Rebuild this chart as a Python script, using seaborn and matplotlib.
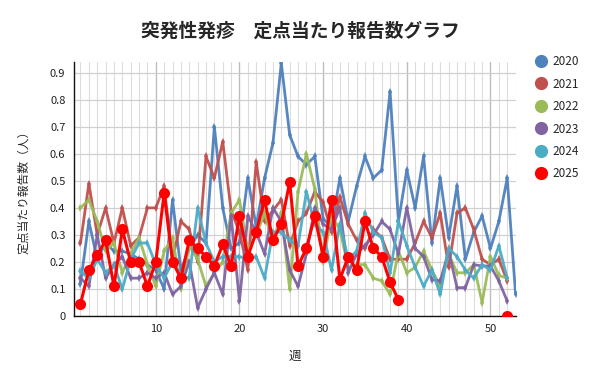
import numpy as np
import pandas as pd
import matplotlib
matplotlib.use("Agg")
import matplotlib.pyplot as plt
from matplotlib.lines import Line2D
from matplotlib.ticker import MultipleLocator, FixedLocator
import seaborn as sns

TITLE = "突発性発疹　定点当たり報告数グラフ"
XLABEL = "週"
YLABEL = "定点当たり報告数（人）"

years = ["2020", "2021", "2022", "2023", "2024", "2025"]
colors = ["#4F81BD", "#C0504D", "#9BBB59", "#8064A2", "#4BACC6", "#FF0000"]

v2020 = [0.12, 0.35, 0.21, 0.27, 0.24, 0.24, 0.23, 0.21, 0.19, 0.17,
         0.10, 0.43, 0.17, 0.25, 0.30, 0.27, 0.70, 0.40, 0.25, 0.27,
         0.51, 0.33, 0.51, 0.64, 0.935, 0.67, 0.59, 0.56, 0.59, 0.36,
         0.33, 0.51, 0.35, 0.48, 0.59, 0.51, 0.54, 0.83, 0.35, 0.54,
         0.40, 0.59, 0.27, 0.51, 0.29, 0.48, 0.21, 0.31, 0.37, 0.25,
         0.35, 0.51, 0.08]
v2021 = [0.27, 0.49, 0.30, 0.40, 0.27, 0.40, 0.26, 0.29, 0.40, 0.40,
         0.48, 0.21, 0.35, 0.32, 0.20, 0.59, 0.51, 0.645, 0.39, 0.31,
         0.17, 0.57, 0.35, 0.39, 0.43, 0.26, 0.35, 0.38, 0.46, 0.42,
         0.31, 0.44, 0.34, 0.28, 0.25, 0.32, 0.29, 0.21, 0.21, 0.21,
         0.27, 0.35, 0.29, 0.38, 0.18, 0.38, 0.40, 0.32, 0.21, 0.19,
         0.21, 0.13]
v2022 = [0.40, 0.43, 0.35, 0.24, 0.27, 0.16, 0.23, 0.29, 0.19, 0.11,
         0.24, 0.29, 0.10, 0.26, 0.21, 0.11, 0.16, 0.20, 0.38, 0.43,
         0.24, 0.30, 0.38, 0.27, 0.38, 0.10, 0.46, 0.60, 0.47, 0.20,
         0.37, 0.32, 0.18, 0.19, 0.19, 0.14, 0.13, 0.08, 0.24, 0.16,
         0.18, 0.24, 0.17, 0.11, 0.23, 0.16, 0.16, 0.19, 0.05, 0.22,
         0.15, 0.14]
v2023 = [0.14, 0.11, 0.30, 0.14, 0.19, 0.22, 0.14, 0.14, 0.16, 0.14,
         0.16, 0.08, 0.11, 0.20, 0.03, 0.10, 0.16, 0.08, 0.37, 0.055,
         0.37, 0.31, 0.23, 0.40, 0.35, 0.17, 0.11, 0.23, 0.40, 0.34,
         0.32, 0.40, 0.16, 0.23, 0.26, 0.30, 0.35, 0.32, 0.23, 0.40,
         0.25, 0.22, 0.135, 0.13, 0.24, 0.105, 0.105, 0.19, 0.185, 0.185,
         0.13, 0.055]
v2024 = [0.165, 0.14, 0.21, 0.16, 0.19, 0.10, 0.21, 0.27, 0.27, 0.19,
         0.14, 0.20, 0.15, 0.14, 0.40, 0.27, 0.20, 0.22, 0.22, 0.22,
         0.21, 0.22, 0.14, 0.31, 0.31, 0.28, 0.26, 0.46, 0.34, 0.31,
         0.17, 0.34, 0.21, 0.24, 0.38, 0.31, 0.29, 0.16, 0.35, 0.26,
         0.18, 0.11, 0.17, 0.08, 0.25, 0.22, 0.17, 0.14, 0.19, 0.17,
         0.26, 0.14]
v2025 = [0.045, 0.17, 0.225, 0.28, 0.11, 0.32, 0.20, 0.20, 0.11, 0.20,
         0.455, 0.20, 0.14, 0.28, 0.25, 0.22, 0.185, 0.265, 0.185, 0.37,
         0.22, 0.31, 0.43, 0.28, 0.34, 0.495, 0.185, 0.25, 0.37, 0.22,
         0.43, 0.135, 0.22, 0.17, 0.35, 0.25, 0.22, 0.125, 0.06, None,
         None, None, None, None, None, None, None, None, None, None,
         None, 0.0]

series = [v2020, v2021, v2022, v2023, v2024, v2025]
yticks = [0, 0.1, 0.2, 0.3, 0.4, 0.5, 0.6, 0.7, 0.8, 0.9]
ytick_labels = ["0", "0.1", "0.2", "0.3", "0.4", "0.5", "0.6", "0.7", "0.8", "0.9"]
xticks = [10, 20, 30, 40, 50]

sns.set_theme(style="white")
plt.rcParams["font.family"] = ["Noto Sans CJK JP", "DejaVu Sans"]

fig = plt.figure(figsize=(6.0, 3.84), dpi=100)
ax = fig.add_axes([0.123, 0.177, 0.737, 0.662])

for year, color, vals in zip(years, colors, series):
    weeks = np.arange(1, len(vals) + 1)
    df = pd.DataFrame({"week": weeks, "value": pd.to_numeric(pd.Series(vals), errors="coerce")})
    # split into contiguous runs (gaps stay gaps)
    grp = df["value"].isna().cumsum()
    df = df.assign(run=grp).dropna()
    for _, sub in df.groupby("run"):
        if year == "2025":
            sns.lineplot(data=sub, x="week", y="value", ax=ax, color=color,
                         linewidth=2.2, marker="o", markersize=8,
                         markeredgewidth=0, zorder=5, legend=False)
        else:
            sns.lineplot(data=sub, x="week", y="value", ax=ax, color=color,
                         linewidth=2.0, marker="d", markersize=4,
                         markeredgewidth=0, alpha=0.95, zorder=3, legend=False)

ax.set_xlim(0.2, 53.05)
ax.set_ylim(0, 0.94)
ax.xaxis.set_major_locator(FixedLocator(xticks))
ax.xaxis.set_minor_locator(MultipleLocator(1))
ax.set_yticks(yticks)
ax.set_yticklabels(ytick_labels)
ax.grid(which="minor", axis="x", color="#DCDCDC", linewidth=0.8)
ax.grid(which="major", axis="x", color="#BDBDBD", linewidth=1.0)
ax.grid(which="major", axis="y", color="#D0D0D0", linewidth=0.9)
ax.set_axisbelow(True)
ax.tick_params(axis="both", which="both", length=0, labelsize=8, colors="#222222", pad=6)

for s in ["top", "right"]:
    ax.spines[s].set_visible(False)
for s in ["left", "bottom"]:
    ax.spines[s].set_color("#111111")
    ax.spines[s].set_linewidth(1.0)

ax.set_xlabel(XLABEL, fontsize=9, labelpad=11)
ax.set_ylabel(YLABEL, fontsize=8.5, labelpad=14)
fig.text(0.5, 0.92, TITLE, ha="center", va="center", fontsize=13.5, fontweight="bold")

handles = [Line2D([], [], linestyle="", marker="o", markersize=9.5, color=c,
                  markeredgewidth=0) for c in colors]
fig.legend(handles, years, loc="upper left", bbox_to_anchor=(0.872, 0.884),
           frameon=False, fontsize=8.5, handletextpad=0.4, labelspacing=0.8,
           handlelength=1.2)

fig.savefig("out.png", dpi=100)
